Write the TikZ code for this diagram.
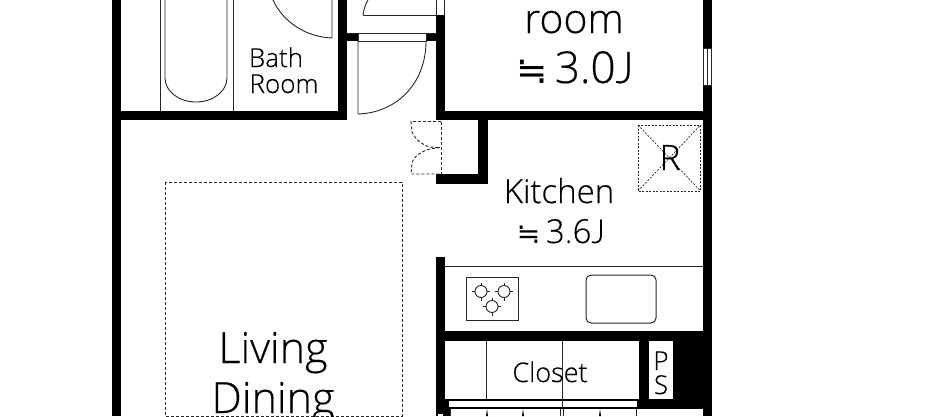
\documentclass[tikz,border=0pt]{standalone}
\usepackage{fontspec}
\setmainfont{Open Sans Light}[FakeBold=0.35]
\newfontfamily\symfont{DejaVu Sans}
\newfontfamily\jfont{Lato Light}[FakeBold=0.35]
\newcommand{\nearly}{{\symfont\scalebox{0.85}{≒}}}
\tikzset{
  wall/.style={fill=black,draw=none},
  thin line/.style={draw=black!85,line width=0.9pt},
  dash line/.style={draw=black!85,line width=0.9pt,dash pattern=on 3pt off 2pt},
  label/.style={inner sep=0pt,anchor=base,font=\fontsize{#1}{#1}\selectfont},
}
\begin{document}
\begin{tikzpicture}[x=1pt,y=-1pt]
\useasboundingbox (0,0) rectangle (936,416);
\fill[white] (0,0) rectangle (936,416);
% walls
\path[wall] (112,0) rectangle (121,416);
\path[wall] (112,111) rectangle (347,120);
\path[wall] (338,0) rectangle (347,120);
\path[wall] (347,33) rectangle (358,41);
\path[wall] (426,33) rectangle (436,41);
\path[wall] (436,15) rectangle (445,120);
\path[wall] (436,111) rectangle (712,120);
\path[wall] (703,0) rectangle (712,416);
\path[wall] (478,120) rectangle (488,184);
\path[wall] (436,174) rectangle (488,184);
\path[wall] (436,257) rectangle (445,416);
\path[wall] (445,331) rectangle (703,341);
\path[wall] (639,341) rectangle (649,409);
\path[wall] (673,341) rectangle (703,409);
\path[wall] (445,399) rectangle (703,409);
\path[wall] (445,409) rectangle (450,416);
% windows
\fill[white] (703.5,48) rectangle (711.5,85);
\draw[thin line] (703.5,48) rectangle (711.5,85) (707.5,48) -- (707.5,85);
\draw[thin line] (436,0) -- (436,15) (444,0) -- (444,15);
\fill[white] (449,401) rectangle (637,407);
\fill[white] (437.5,414) rectangle (443,416);
% bath
\draw[thin line] (160,0) -- (160,111) (233,0) -- (233,111);
\draw[thin line] (165,0) -- (165,78) arc[start angle=180,end angle=0,x radius=31,y radius=24] -- (227,0);
\draw[thin line] (273,0) .. controls (283,22) and (306,37) .. (332,38) -- (332,0);
% entry door
\draw[thin line] (358,33) -- (426,33) -- (426,41) -- (358,41) -- cycle;
\draw[thin line] (358,41) -- (358,114) .. controls (395,113) and (426,85) .. (426,41);
\draw[thin line] (363,15) .. controls (364,8) and (366,3) .. (368,0);
\draw[thin line] (363,15) -- (436,15);
\draw[thin line] (347,33) -- (358,33) (426,33) -- (436,33);
% small dashed door
\draw[dash line] (441,121.5) -- (411,121.5) -- (412,132) .. controls (416,140) and (422,145) .. (430,147) -- (440,147.5) -- (430,149) .. controls (422,151) and (414,156) .. (412,163) -- (411,174) -- (441,174);
\draw[dash line] (441,121.5) -- (441,174);
% living dashed
\draw[dash line] (165,182) rectangle (402,416);
% R box
\draw[dash line,line width=0.8pt,dash pattern=on 2pt off 1.5pt] (638,125) rectangle (700.5,191);
\draw[dash line,line width=0.7pt,dash pattern=on 2pt off 1.5pt] (638,125) -- (700.5,191) (638,191) -- (700.5,125);
% counter
\draw[thin line] (445,266) -- (703,266);
\draw[thin line] (466.5,277) rectangle (518,320.5);
\draw[draw=black!85,line width=1pt,rounded corners=5pt] (586,275) rectangle (656,323);
\foreach \nm/\cx/\cy in {b1/481/291.5,b2/504/291.5,b3/492/306.5}{
  \draw[thin line] (\cx,\cy) circle[radius=6];
  \draw[thin line] (\cx-9,\cy) -- (\cx-6,\cy) (\cx+6,\cy) -- (\cx+9,\cy) (\cx,\cy-9) -- (\cx,\cy-6) (\cx,\cy+6) -- (\cx,\cy+9);
}
% closet
\draw[thin line] (486.5,341) -- (486.5,399) (562,341) -- (562,407);
\draw[thin line] (450,409) -- (450,416) (560,409) -- (560,416) (563,409) -- (563,416) (636,409) -- (636,416);
\foreach \tx in {487,523,600}{
  \fill[black] (\tx-1,416) -- (\tx,409) -- (\tx+1,416) -- cycle;
}
% text
\node[label=26] (bath) at (276,67) {Bath};
\node[label=26] (broom) at (284,93) {Room};
\node[label=41] (room) at (574,33) {room};
\node[label=44] (roomsz) at (575,83) {\nearly\,3.0{\jfont J}};
\node[label=33] (kit) at (559,203) {Kitchen};
\node[label=33] (kitsz) at (561,243) {\nearly\,3.6{\jfont J}};
\node[label=35] (rr) at (670,170) {R};
\node[label=27] (cl) at (550,382) {Closet};
\node[label=26] (pp) at (661,370) {P};
\node[label=26] (ss) at (661,394) {S};
\node[label=43] (liv) at (273,363) {Living};
\node[label=43] (din) at (273,413) {Dining};
\end{tikzpicture}
\end{document}
